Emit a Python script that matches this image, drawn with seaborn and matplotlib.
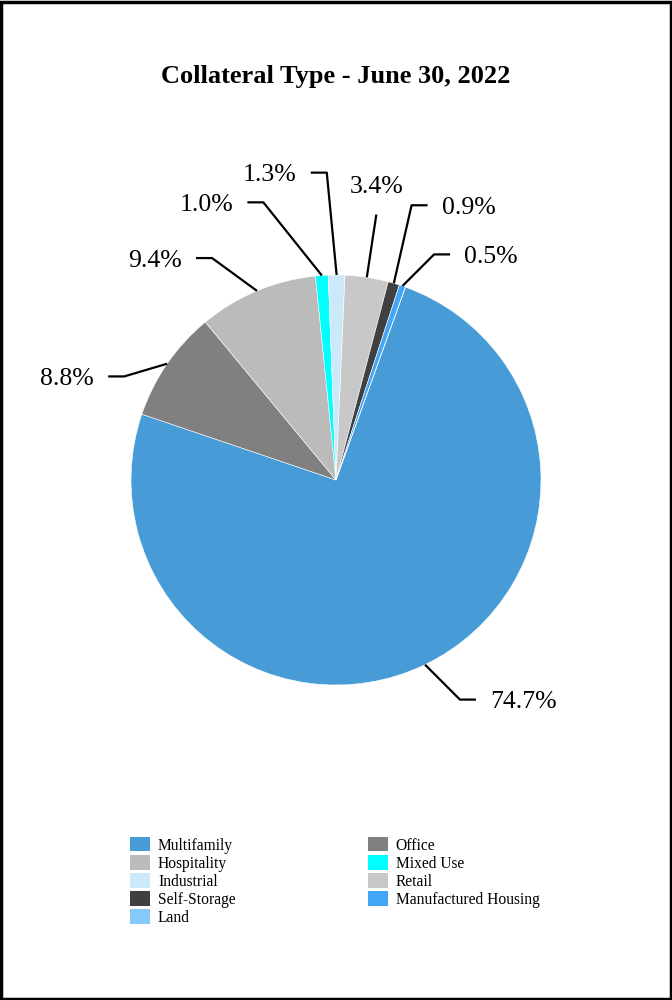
import numpy as np
import matplotlib
matplotlib.use("Agg")
import matplotlib.pyplot as plt
import seaborn as sns
from matplotlib.patches import Patch, Rectangle

# ---- data ----
categories = ["Multifamily", "Office", "Hospitality", "Mixed Use", "Industrial",
              "Retail", "Self-Storage", "Manufactured Housing", "Land"]
values = [74.7, 8.8, 9.4, 1.0, 1.3, 3.4, 0.9, 0.5, 0.0]
colors = ["#479CD8", "#808080", "#BBBBBB", "#00FFFF", "#CCE9F9",
          "#C8C8C8", "#404040", "#42A5F5", "#85C8FA"]
title = "Collateral Type - June 30, 2022"

# label layout: (angle offset clockwise in deg, elbow radius factor, side)
label_layout = {
    "Multifamily": (-3.7, 1.23, "r"),
    "Office": (-8.5, 1.15, "l"),
    "Hospitality": (-6.5, 1.24, "l"),
    "Mixed Use": (-10.7, 1.40, "l"),
    "Industrial": (-1.9, 1.50, "l"),
    "Retail": (0.0, 1.31, "c"),
    "Self-Storage": (-1.0, 1.39, "r"),
    "Manufactured Housing": (4.6, 1.20, "r"),
}

sns.set_theme(style="white")
plt.rcParams["font.family"] = ["Liberation Serif", "DejaVu Serif"]
plt.rcParams["text.color"] = "black"

W, H, DPI = 672, 1000, 100
fig = plt.figure(figsize=(W / DPI, H / DPI), dpi=DPI)
fig.patch.set_facecolor("white")

R_PX = 205.0
CX, CY = 336.0, 480.0
ax = fig.add_axes([0, 0, 1, 1])
ax.axis("off")

palette = sns.color_palette(colors)
wedges, _ = ax.pie(values, colors=palette, startangle=90 - 19.8, counterclock=False,
                   radius=1.0, center=(0, 0),
                   wedgeprops=dict(edgecolor="white", linewidth=0.4))
ax.set_xlim(-CX / R_PX, (W - CX) / R_PX)
ax.set_ylim(-(H - CY) / R_PX, CY / R_PX)
ax.set_aspect("auto")

seg = 16 / R_PX
gap = 14 / R_PX
for w, cat, v in zip(wedges, categories, values):
    if v <= 0:
        continue
    mid = np.deg2rad((w.theta1 + w.theta2) / 2)
    d, f, side = label_layout[cat]
    ea = mid - np.deg2rad(d)
    ax0, ay0 = np.cos(mid), np.sin(mid)
    ex, ey = f * np.cos(ea), f * np.sin(ea)
    txt = f"{v:.1f}%"
    if side == "r":
        ax.plot([ax0, ex, ex + seg], [ay0, ey, ey], color="black", lw=1.6,
                solid_capstyle="butt")
        ax.text(ex + seg + gap, ey, txt, ha="left", va="center_baseline",
                fontsize=18.5, color="black")
    elif side == "l":
        ax.plot([ax0, ex, ex - seg], [ay0, ey, ey], color="black", lw=1.6,
                solid_capstyle="butt")
        ax.text(ex - seg - gap, ey, txt, ha="right", va="center_baseline",
                fontsize=18.5, color="black")
    else:
        ax.plot([ax0, ex], [ay0, ey], color="black", lw=1.6, solid_capstyle="butt")
        ax.text(ex, ey + 30 / R_PX, txt, ha="center", va="center_baseline",
                fontsize=18.5, color="black")

fig.text(0.5, 1 - 76 / H, title, ha="center", va="center", fontsize=19,
         fontweight="bold", color="black")

# legend (row-major order in reference -> column-major for matplotlib)
order = [0, 2, 4, 6, 8, 1, 3, 5, 7]
handles = [Patch(facecolor=colors[i], edgecolor="none", label=categories[i]) for i in order]
leg = fig.legend(handles=handles, loc="upper left", bbox_to_anchor=(130 / W, 1 - 837 / H),
                 ncol=2, frameon=False, fontsize=11.2, handlelength=1.3, handleheight=1.05,
                 handletextpad=0.5, labelspacing=0.1, columnspacing=8.5,
                 borderaxespad=0, borderpad=0)
for t in leg.get_texts():
    t.set_color("black")

fig.patches.append(Rectangle((0.002, 0.0015), 0.996, 0.997, transform=fig.transFigure,
                             fill=False, edgecolor="black", linewidth=2.5))

fig.savefig("out.png", dpi=DPI, facecolor="white")
